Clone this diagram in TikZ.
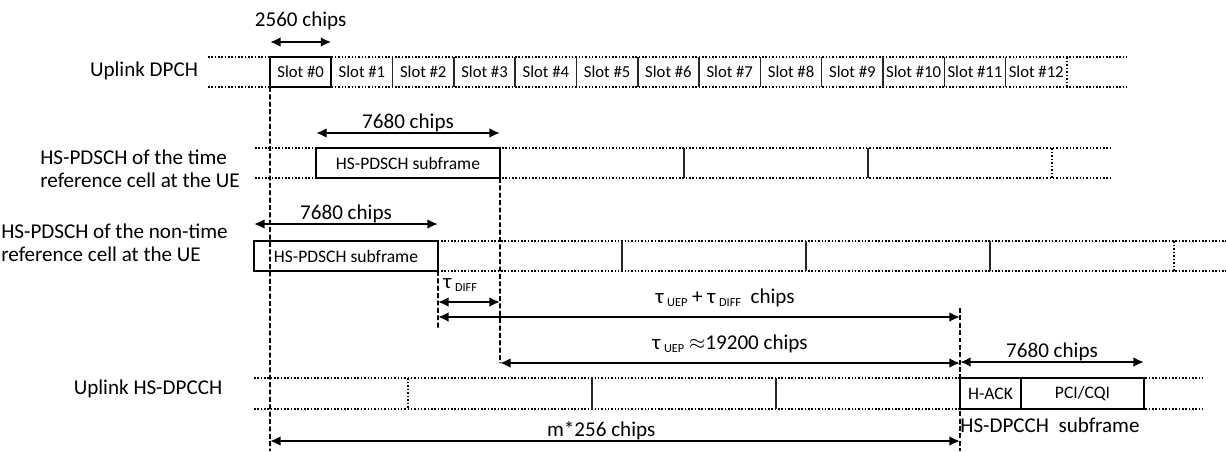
\documentclass[tikz,border=0pt]{standalone}
\usepackage{fontspec}
\setmainfont{Carlito}
\usepackage{tikz}
\usetikzlibrary{arrows.meta,positioning,calc}

\newcommand{\lowtxt}[1]{\raisebox{-1.8pt}{\fontsize{7}{8}\selectfont #1}}

\tikzset{
  rowline/.style={densely dotted, line width=0.9pt},
  divider/.style={line width=0.9pt, black!85},
  dotdiv/.style={densely dotted, line width=1pt},
  guide/.style={dash pattern=on 2.8pt off 1.4pt, line width=1pt},
  dim/.style={{Latex[length=6pt,width=5.5pt]}-{Latex[length=6pt,width=5.5pt]}, line width=1.3pt},
  frame/.style={draw, line width=1.2pt, minimum height=0.6cm, inner sep=0pt, outer sep=0pt, font=\fontsize{10}{12}\selectfont},
  slot/.style={minimum width=1.226cm, minimum height=0.6cm, inner sep=0pt, outer sep=0pt, font=\fontsize{9.5}{11}\selectfont},
  rowlabel/.style={inner sep=0pt, align=left, font=\fontsize{12}{13.2}\selectfont},
  chiplbl/.style={inner sep=0pt, font=\fontsize{12}{14}\selectfont}
}

\begin{document}
\begin{tikzpicture}[x=0.02cm, y=-0.02cm]
            \useasboundingbox (0,0) rectangle (1226,451);
            \draw[rowline] (208,57) -- (1127,57) (208,87) -- (1127,87);
            \draw[rowline] (255,148) -- (1112,148) (255,178) -- (1112,178);
            \draw[rowline] (254,241) -- (1226,241) (254,271) -- (1226,271);
            \draw[rowline] (254,378) -- (1203,378) (254,409) -- (1203,409);
            \node[rowlabel] (ldpch) at (144,71) {Uplink DPCH};
            \node[rowlabel, anchor=west] (ltime) at (40,169) {HS-PDSCH of the time\\reference cell at the UE};
            \node[rowlabel, anchor=west] (lnontime) at (1,243) {HS-PDSCH of the non-time\\reference cell at the UE};
            \node[rowlabel] (lhsdpcch) at (148,389) {Uplink HS-DPCCH};
            \foreach \i in {0,...,12}
              \node[slot] (s\i) at ({300.65+61.3*\i},72) {Slot \#\i};
            \foreach \i in {0,...,11}
              \draw[divider] (s\i.north east) -- (s\i.south east);
            \draw[dotdiv] (s12.north east) -- (s12.south east);
            \draw[line width=1.2pt] (s0.north west) rectangle (s0.south east);
            \node[frame, minimum width=3.68cm] (sf2) at (408,163) {HS-PDSCH subframe};
            \foreach \x in {684,868} \draw[divider] (\x,148) -- (\x,178);
            \draw[dotdiv] (1052,148) -- (1052,178);
            \node[frame, minimum width=3.68cm] (sf3) at (346,256) {HS-PDSCH subframe};
            \foreach \x in {622,806,990} \draw[divider] (\x,241) -- (\x,271);
            \draw[dotdiv] (1174,241) -- (1174,271);
            \draw[dotdiv] (408,378) -- (408,409);
            \foreach \x in {592,776} \draw[divider] (\x,378) -- (\x,409);
            \node[frame, minimum width=1.22cm, minimum height=0.62cm] (hack) at (990.5,393.5) {H-ACK};
            \node[frame, minimum width=2.46cm, minimum height=0.62cm, right=0pt of hack] (pci) {PCI/CQI};
            \node[chiplbl, anchor=west] (hssub) at (960,425) {HS-DPCCH\ \ subframe};
            \coordinate (bot0) at (270,451);
            \coordinate (top960) at (960,308);
            \coordinate (bot960) at (960,451);
            \coordinate (end438) at (438,330);
            \coordinate (end500) at (500,363);
            \draw[guide] (s0.south west) -- (bot0);
            \draw[guide] (sf2.south east) -- (end500);
            \draw[guide] (sf3.south east) -- (end438);
            \draw[guide] (top960) -- (bot960);
            \draw[dim] (s0.west |- 0,42) -- (s0.east |- 0,42) node[chiplbl, midway, above=6pt] {2560 chips};
            \draw[dim] (sf2.west |- 0,133) -- (sf2.east |- 0,133) node[chiplbl, midway, above=0pt] {7680 chips};
            \draw[dim] (sf3.west |- 0,224) -- (sf3.east |- 0,224) node[chiplbl, midway, above=0pt] {7680 chips};
            \node[chiplbl, anchor=west] (tdiff) at (443,285) {τ\,\lowtxt{DIFF}};
            \draw[dim] (sf3.east |- 0,302) -- (sf2.east |- 0,302);
            \draw[dim] (sf3.east |- 0,317) -- (top960 |- 0,317) node[chiplbl, pos=0.55, above=5pt] {τ\,\lowtxt{UEP} + τ\,\lowtxt{DIFF}\ \ chips};
            \draw[dim] (end500) -- (top960 |- end500) node[chiplbl, midway, above=5pt] {τ\,\lowtxt{UEP}\ $\approx$19200 chips};
            \draw[dim] (hack.west |- 0,362) -- (pci.east |- 0,362) node[chiplbl, midway, above=0pt] {7680 chips};
            \draw[dim] (bot0 |- 0,441) -- (bot960 |- 0,441) node[chiplbl, pos=0.48, above=0pt] {m*256 chips};
        \end{tikzpicture}
\end{document}
